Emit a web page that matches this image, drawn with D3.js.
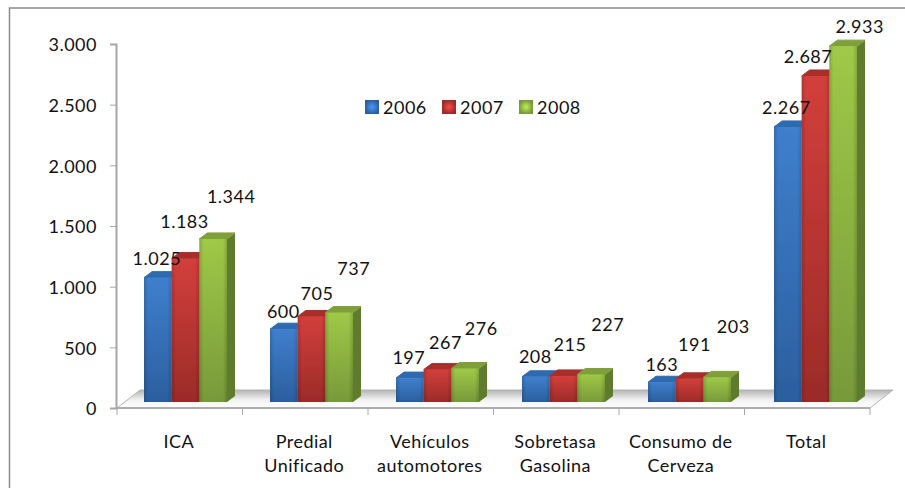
<!DOCTYPE html>
<html>
<head>
<meta charset="utf-8">
<script src="https://cdn.jsdelivr.net/npm/d3@7"></script>
<style>
  html, body { margin: 0; padding: 0; background: #fff; overflow: hidden; }
  text { font-family: Lato, "Open Sans", sans-serif; fill: #111; }
</style>
</head>
<body>
<script>
// Chart values
const categories = ["ICA", "Predial Unificado", "Vehículos automotores", "Sobretasa Gasolina", "Consumo de Cerveza", "Total"];
const categoryLines = [["ICA"], ["Predial", "Unificado"], ["Vehículos", "automotores"], ["Sobretasa", "Gasolina"], ["Consumo de", "Cerveza"], ["Total"]];
const years = ["2006", "2007", "2008"];
const values2006 = [1025, 600, 197, 208, 163, 2267];
const values2007 = [1183, 705, 267, 215, 191, 2687];
const values2008 = [1344, 737, 276, 227, 203, 2933];
const yTicks = [0, 500, 1000, 1500, 2000, 2500, 3000];

// Layout
const w = 905;
const h = 488;
const axisLeft = 117;
const axisRight = 870;
const axisBottom = 408;
const axisTop = 44;
const depth = { x: 8, y: 6 };   // how far the 3d bars go back
const floorDepth = { x: 23, y: 18 };
const barLift = 6;              // bars stand a bit behind the front edge of the floor

// Data labels were hand placed in the original, so they get their own nudges
const labelNudges = [
  [[-1, -19], [-1, -37], [18, -42]],
  [[0, -18], [6, -23], [15, -44]],
  [[0, -20], [9, -27], [17, -40]],
  [[1, -20], [8, -31], [18, -50]],
  [[2, -18], [7, -34], [18, -51]],
  [[1, -19], [-5, -19], [19, -19]]
];

const palette = {
  "2006": { hi: "#3f7fcd", lo: "#2b5f9f", top: "#2f6ab0", side: "#234f85" },
  "2007": { hi: "#d33f3b", lo: "#9b2b28", top: "#a82f2c", side: "#7d2220" },
  "2008": { hi: "#9fc947", lo: "#78993a", top: "#7f9f3a", side: "#5f7c2e" }
};

const locale = d3.formatLocale({ decimal: ",", thousands: ".", grouping: [3], currency: ["", ""] });
const fmt = locale.format(",");

const x = d3.scaleBand().domain(categories).range([axisLeft, axisRight]);
// the bars drift right of the ticks a little because of the 3d view
const xBars = d3.scaleBand().domain(categories).range([axisLeft, axisRight + 3]);
const xYear = d3.scaleBand().domain(years).range([27, 110]);
const y = d3.scaleLinear().domain([0, 3000]).range([axisBottom, axisTop]);

const svg = d3.select("body").append("svg").attr("width", w).attr("height", h);
const defs = svg.append("defs");

// Gradients
years.forEach(yr => {
  const c = palette[yr];
  const front = defs.append("linearGradient").attr("id", "front" + yr).attr("x1", 0).attr("y1", 0).attr("x2", 0).attr("y2", 1);
  front.append("stop").attr("offset", 0).attr("stop-color", c.hi);
  front.append("stop").attr("offset", 1).attr("stop-color", c.lo);
  const sw = defs.append("radialGradient").attr("id", "swatch" + yr);
  sw.append("stop").attr("offset", 0).attr("stop-color", d3.color(c.hi).brighter(0.5));
  sw.append("stop").attr("offset", 1).attr("stop-color", c.lo);
});
const edge = defs.append("linearGradient").attr("id", "edge");
edge.append("stop").attr("offset", 0).attr("stop-color", "#000").attr("stop-opacity", 0.16);
edge.append("stop").attr("offset", 0.15).attr("stop-color", "#000").attr("stop-opacity", 0);
edge.append("stop").attr("offset", 0.85).attr("stop-color", "#000").attr("stop-opacity", 0);
edge.append("stop").attr("offset", 1).attr("stop-color", "#000").attr("stop-opacity", 0.16);
const floorGrad = defs.append("linearGradient").attr("id", "floor").attr("x1", 0).attr("y1", 0).attr("x2", 0).attr("y2", 1);
floorGrad.append("stop").attr("offset", 0).attr("stop-color", "#b4b4b4");
floorGrad.append("stop").attr("offset", 0.55).attr("stop-color", "#f2f2f2");
floorGrad.append("stop").attr("offset", 1).attr("stop-color", "#fff");
defs.append("filter").attr("id", "soft").append("feGaussianBlur").attr("stdDeviation", 0.5);

// Outer frame, runs off the right and bottom of the picture
svg.append("rect")
  .attr("x", 9.5).attr("y", 8)
  .attr("width", w).attr("height", h)
  .attr("fill", "#fff")
  .attr("stroke", "#8c8c8c")
  .attr("stroke-width", 1.5);

// Floor
const floorPts = [
  [axisLeft, axisBottom],
  [axisRight, axisBottom],
  [axisRight + floorDepth.x, axisBottom - floorDepth.y],
  [axisLeft + floorDepth.x, axisBottom - floorDepth.y]
];
svg.append("path")
  .attr("d", d3.line()(floorPts) + "Z")
  .attr("fill", "url(#floor)")
  .attr("stroke", "#b3b3b3")
  .attr("stroke-width", 1);
svg.append("line")
  .attr("x1", axisLeft).attr("x2", axisRight)
  .attr("y1", axisBottom).attr("y2", axisBottom)
  .attr("stroke", "#adadad").attr("stroke-width", 2);

// Y axis
const gy = svg.append("g")
  .attr("transform", `translate(${axisLeft - 1},0)`)
  .call(d3.axisLeft(y).tickValues(yTicks).tickSize(6).tickPadding(13).tickFormat(fmt));
gy.selectAll("path, line").attr("stroke", "#a6a6a6");
gy.select("path").attr("stroke-width", 2);
gy.selectAll("text").attr("dy", "0.38em").style("font-size", "18px").style("letter-spacing", "0.5px");

// X axis ticks sit on the category boundaries
svg.append("g").selectAll("line")
  .data(categories.map(c => x(c)).concat(axisRight))
  .join("line")
  .attr("x1", d => d).attr("x2", d => d)
  .attr("y1", axisBottom).attr("y2", axisBottom + 7)
  .attr("stroke", "#a6a6a6");

svg.append("g").selectAll("text")
  .data(categories)
  .join("text")
  .attr("x", d => x(d) + x.bandwidth() / 2 - 1)
  .attr("y", 448)
  .attr("text-anchor", "middle")
  .style("font-size", "18px")
  .style("letter-spacing", "0.45px")
  .each(function (d, i) {
    d3.select(this).selectAll("tspan")
      .data(categoryLines[i])
      .join("tspan")
      .attr("x", x(d) + x.bandwidth() / 2 - 1)
      .attr("dy", (t, k) => k ? 24 : 0)
      .text(t => t);
  });

// Bars
const series = [values2006, values2007, values2008];
const bars = svg.append("g").attr("filter", "url(#soft)");
categories.forEach((cat, i) => {
  years.forEach((yr, j) => {
    const v = series[j][i];
    const x0 = xBars(cat) + xYear(yr);
    const x1 = x0 + xYear.bandwidth();
    const yt = y(v) - barLift;
    const yb = y(0) - barLift;
    const c = palette[yr];
    bars.append("path")
      .attr("d", d3.line()([[x1, yt], [x1 + depth.x, yt - depth.y], [x1 + depth.x, yb - depth.y], [x1, yb]]) + "Z")
      .attr("fill", c.side);
    bars.append("path")
      .attr("d", d3.line()([[x0, yt], [x1, yt], [x1 + depth.x, yt - depth.y], [x0 + depth.x, yt - depth.y]]) + "Z")
      .attr("fill", c.top)
      .attr("stroke", c.top)
      .attr("stroke-width", 1)
      .attr("stroke-linejoin", "round");
    bars.append("rect")
      .attr("x", x0).attr("y", yt)
      .attr("width", x1 - x0).attr("height", yb - yt)
      .attr("fill", `url(#front${yr})`);
    bars.append("rect")
      .attr("x", x0).attr("y", yt)
      .attr("width", x1 - x0).attr("height", yb - yt)
      .attr("fill", "url(#edge)");
  });
});

// Data labels
categories.forEach((cat, i) => {
  years.forEach((yr, j) => {
    const v = series[j][i];
    const nudge = labelNudges[i][j];
    svg.append("text")
      .attr("x", x(cat) + xYear(yr) + xYear.bandwidth() / 2 + nudge[0])
      .attr("y", y(v) - barLift + nudge[1])
      .attr("dy", "0.35em")
      .attr("text-anchor", "middle")
      .style("font-size", "18px")
      .style("letter-spacing", "0.5px")
      .text(fmt(v));
  });
});

// Legend
const legendX = d3.scalePoint().domain(years).range([365, 519]);
const legend = svg.append("g").selectAll("g")
  .data(years)
  .join("g")
  .attr("transform", d => `translate(${legendX(d)},100)`);
legend.append("rect")
  .attr("width", 14).attr("height", 14)
  .attr("fill", d => `url(#swatch${d})`);
legend.append("text")
  .attr("x", 18).attr("y", 14)
  .style("font-size", "18px")
  .style("letter-spacing", "0.5px")
  .text(d => d);
</script>
</body>
</html>
